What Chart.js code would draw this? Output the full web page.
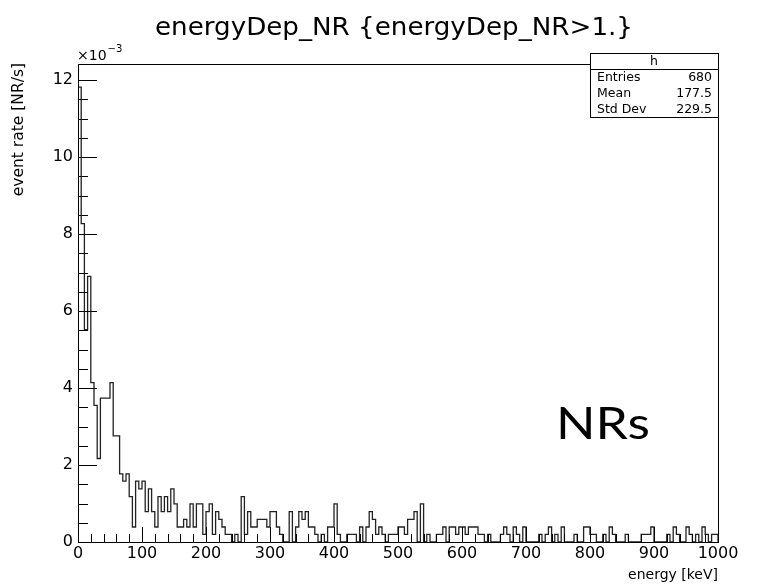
<!DOCTYPE html>
<html><head><meta charset="utf-8">
<script src="https://cdn.jsdelivr.net/npm/chart.js@4.4.1/dist/chart.umd.min.js"></script>
<style>html,body{margin:0;padding:0;background:#fff;}#wrap{width:780px;height:584px;position:relative;}</style>
</head><body><div id="wrap"><canvas id="c" width="780" height="584"></canvas></div>
<script>
// Histogram: energyDep_NR, 5 keV bins from 0 to 1000 keV; values in units of 1e-3 NR/s
const binWidth = 5;
const rateE3 = [
  11.82, 8.27, 5.52, 6.9, 4.14, 3.55, 2.17, 3.74, 3.74, 3.74, 4.14, 2.76, 2.76, 1.77, 1.58, 1.77, 1.18, 0.39, 1.58, 1.38,
  1.58, 0.79, 1.38, 0.79, 0.39, 1.18, 0.79, 1.18, 0.79, 1.38, 0.99, 0.39, 0.39, 0.59, 0.39, 0.99, 0.39, 0.99, 0.99, 0.2,
  0.79, 0.99, 0.2, 0.79, 0.59, 0.39, 0.2, 0.2, 0, 0.2, 0, 1.18, 0.2, 0.79, 0.39, 0.39, 0.59, 0.59, 0.59, 0.39,
  0.79, 0.79, 0.39, 0.2, 0, 0, 0.79, 0, 0.39, 0.79, 0.59, 0.79, 0.39, 0.39, 0.2, 0, 0.2, 0, 0.39, 0.39,
  0.99, 0.2, 0, 0, 0.2, 0.2, 0.2, 0, 0.39, 0, 0.39, 0.79, 0.59, 0.2, 0.39, 0.2, 0, 0.2, 0.2, 0.2,
  0.39, 0.39, 0.2, 0.59, 0.59, 0.79, 0, 0.99, 0, 0.2, 0, 0, 0.2, 0.2, 0.39, 0, 0.39, 0.39, 0.2, 0.39,
  0.39, 0.2, 0.39, 0.39, 0.39, 0.2, 0.2, 0, 0.2, 0, 0, 0, 0.2, 0.39, 0.2, 0, 0.39, 0.2, 0, 0.39,
  0, 0, 0, 0, 0.2, 0, 0.2, 0.39, 0, 0.2, 0, 0.39, 0, 0, 0, 0.2, 0, 0, 0.39, 0.39,
  0.2, 0.2, 0, 0, 0.2, 0, 0.39, 0.2, 0, 0, 0, 0.2, 0, 0, 0, 0, 0.2, 0.2, 0.2, 0.39,
  0, 0, 0, 0, 0.2, 0, 0.39, 0.2, 0, 0, 0.39, 0.2, 0, 0.2, 0, 0.39, 0.2, 0, 0.2, 0.2
];
const xTickValues = [0, 100, 200, 300, 400, 500, 600, 700, 800, 900, 1000];
const yTickValues = [0, 2, 4, 6, 8, 10, 12];
const statsTitle = 'h';
const statsLabels = ['Entries', 'Mean', 'Std Dev'];
const statsValues = ['680', '177.5', '229.5'];
const titleText = 'energyDep_NR {energyDep_NR>1.}';
const xTitle = 'energy [keV]';
const yTitle = 'event rate [NR/s]';
const annotationText = 'NRs';

const points = rateE3.map((v, i) => ({ x: i * binWidth, y: v }));
points.push({ x: rateE3.length * binWidth, y: 0 });

const FONT = '"DejaVu Sans", "Liberation Sans", Arial, sans-serif';

function fitText(ctx, text, x, y, width, align) {
  const w = ctx.measureText(text).width;
  const s = width / w;
  ctx.save();
  ctx.translate(x, y);
  ctx.scale(s, 1);
  ctx.textAlign = 'left';
  let x0 = 0;
  if (align === 'center') x0 = -w / 2;
  else if (align === 'right') x0 = -w;
  ctx.fillText(text, x0, 0);
  ctx.restore();
}

const rootDecor = {
  id: 'rootDecor',
  afterDraw(chart) {
    const ctx = chart.ctx, a = chart.chartArea;
    const xs = chart.scales.x, ys = chart.scales.y;
    ctx.save();
    ctx.strokeStyle = '#000';
    ctx.lineWidth = 1;
    ctx.beginPath();
    for (let v = 0; v <= 1000; v += 20) {
      const px = Math.round(xs.getPixelForValue(v)) + 0.5;
      const len = (v % 100 === 0) ? 15 : 8;
      ctx.moveTo(px, a.bottom); ctx.lineTo(px, a.bottom - len);
    }
    for (let v = 0; v <= 12; v += 0.5) {
      const py = Math.round(ys.getPixelForValue(v)) + 0.5;
      const len = (v % 2 === 0) ? 19 : 10;
      ctx.moveTo(a.left, py); ctx.lineTo(a.left + len, py);
    }
    ctx.stroke();
    ctx.strokeRect(Math.round(a.left) + 0.5, Math.round(a.top) + 0.5, Math.round(a.right - a.left), Math.round(a.bottom - a.top));

    ctx.fillStyle = '#000';
    ctx.textBaseline = 'alphabetic';
    // title
    ctx.font = '25px ' + FONT;
    fitText(ctx, titleText, 155, 35, 478, 'left');
    // exponent
    ctx.font = '14px ' + FONT;
    ctx.textAlign = 'left';
    ctx.fillText('\u00d710', 77, 60);
    const w10 = ctx.measureText('\u00d710').width;
    ctx.font = '10px ' + FONT;
    ctx.fillText('\u22123', 77 + w10 + 1, 52);
    // x title
    ctx.font = '14px ' + FONT;
    ctx.textAlign = 'right'; ctx.textBaseline = 'middle';
    ctx.fillText(xTitle, a.right, 575);
    // y title
    ctx.save();
    ctx.translate(19, a.top - 1);
    ctx.rotate(-Math.PI / 2);
    ctx.textAlign = 'right'; ctx.textBaseline = 'middle';
    ctx.font = '15.5px ' + FONT;
    ctx.fillText(yTitle, 0, 0);
    ctx.restore();
    // stats box
    const bx = 590, by = 53, bw = 128, bh = 64;
    ctx.fillStyle = '#fff';
    ctx.fillRect(bx, by, bw, bh);
    ctx.strokeRect(bx + 0.5, by + 0.5, bw, bh);
    ctx.beginPath(); ctx.moveTo(bx, by + 16.5); ctx.lineTo(bx + bw, by + 16.5); ctx.stroke();
    ctx.fillStyle = '#000';
    ctx.font = '12.5px ' + FONT;
    ctx.textAlign = 'center'; ctx.textBaseline = 'middle';
    ctx.fillText(statsTitle, bx + bw / 2, by + 8.5);
    for (let i = 0; i < statsLabels.length; i++) {
      const ry = by + 24.5 + i * 16;
      ctx.textAlign = 'left';
      ctx.fillText(statsLabels[i], bx + 7, ry);
      ctx.textAlign = 'right';
      ctx.fillText(statsValues[i], bx + bw - 6, ry);
    }
    // NRs annotation
    ctx.font = '44px Lato, "Open Sans", sans-serif';
    ctx.textBaseline = 'alphabetic';
    fitText(ctx, annotationText, 556, 439, 94, 'left');
    ctx.restore();
  }
};

new Chart(document.getElementById('c'), {
  type: 'line',
  data: {
    datasets: [{
      data: points,
      stepped: 'before',
      borderColor: '#222',
      borderWidth: 1.3,
      pointRadius: 0,
      fill: false
    }]
  },
  options: {
    responsive: false,
    animation: false,
    devicePixelRatio: 1,
    layout: { padding: { left: 0, top: 64, right: 62, bottom: 0 } },
    plugins: { legend: { display: false }, tooltip: { enabled: false }, title: { display: false } },
    scales: {
      x: {
        type: 'linear', min: 0, max: 1000,
        afterBuildTicks: s => { s.ticks = xTickValues.map(v => ({ value: v })); },
        afterFit: s => { s.height = 42; },
        grid: { display: false, drawTicks: false },
        border: { display: false },
        ticks: { color: '#000', font: { family: FONT, size: 16 }, padding: 2, maxRotation: 0, autoSkip: false,
                 callback: v => String(v) }
      },
      y: {
        type: 'linear', min: 0, max: 12.42,
        afterBuildTicks: s => { s.ticks = yTickValues.map(v => ({ value: v })); },
        afterFit: s => { s.width = 78; },
        grid: { display: false, drawTicks: false },
        border: { display: false },
        ticks: { color: '#000', font: { family: FONT, size: 16 }, padding: 5, callback: v => String(v) }
      }
    }
  },
  plugins: [rootDecor]
});
</script>
</body></html>
